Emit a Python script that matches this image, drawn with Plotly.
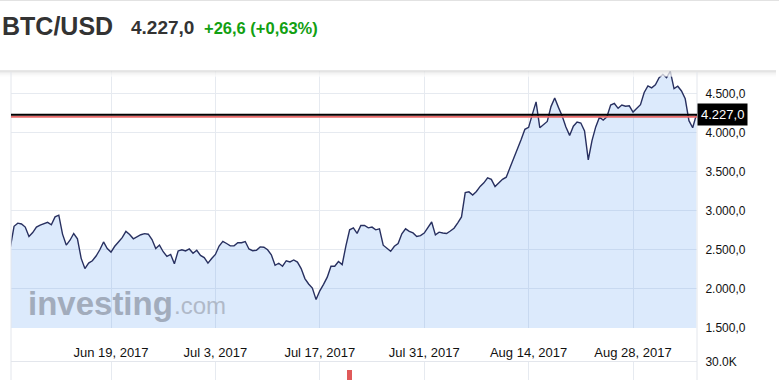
import pandas as pd
import plotly.graph_objects as go

# ---------------- data ----------------
start_time = "2017-06-05 12:00"
sample_freq = "12h"
btc_close = [
    2530, 2800, 2840, 2830, 2790, 2670, 2720, 2790, 2815, 2830,
    2850, 2820, 2921, 2942, 2700, 2560, 2622, 2708, 2640, 2390,
    2260, 2330, 2360, 2420, 2500, 2600, 2516, 2470, 2545, 2600,
    2655, 2735, 2695, 2640, 2670, 2692, 2706, 2699, 2630, 2515,
    2560, 2475, 2415, 2440, 2320, 2485, 2500, 2485, 2510, 2455,
    2494, 2428, 2400, 2330, 2388, 2440, 2548, 2608, 2580, 2550,
    2550, 2590, 2590, 2605, 2510, 2488, 2494, 2537, 2532, 2500,
    2435, 2302, 2328, 2290, 2360, 2345, 2370, 2342, 2260, 2132,
    2063, 2010, 1863, 1975, 2058, 2150, 2290, 2290, 2350, 2310,
    2550, 2755, 2780, 2710, 2810, 2810, 2780, 2790, 2755, 2768,
    2558, 2516, 2480, 2545, 2580, 2705, 2768, 2736, 2715, 2670,
    2680, 2714, 2790, 2855, 2690, 2725, 2715, 2708, 2740, 2775,
    2845, 2920, 3230, 3240, 3200, 3245, 3310, 3355, 3420, 3400,
    3308, 3355, 3400, 3428, 3545, 3684, 3800, 3910, 4040, 4065,
    4230, 4390, 4060, 4100, 4140, 4330, 4440, 4320, 4210, 4070,
    3962, 4080, 4132, 4120, 4020, 3650, 3895, 4070, 4195, 4158,
    4200, 4350, 4370, 4308, 4350, 4335, 4340, 4260, 4308, 4355,
    4510, 4595, 4570, 4608, 4700, 4740, 4700, 4780, 4560, 4590,
    4530, 4430, 4150, 4060, 4227,
]
last_price = 4227.0
prev_close = 4200.4
change_text = "+26,6 (+0,63%)"
price_text = "4.227,0"
symbol = "BTC/USD"

tick_dates = ["2017-06-19", "2017-07-03", "2017-07-17", "2017-07-31", "2017-08-14", "2017-08-28"]
tick_labels = ["Jun 19, 2017", "Jul 3, 2017", "Jul 17, 2017", "Jul 31, 2017", "Aug 14, 2017", "Aug 28, 2017"]
price_ticks = [1500, 2000, 2500, 3000, 3500, 4000, 4500]
x_range = ["2017-06-05 14:10", "2017-09-05 13:55"]
y_range = [1500, 4785]

vol_dates = ["2017-07-21 00:00"]
vol_values = [27300]
vol_ticks = [30000]
vol_tick_labels = ["30.0K"]
vol_range = [24000, 30000]

dates = pd.date_range(start_time, periods=len(btc_close), freq=sample_freq)

# ---------------- geometry ----------------
W, H = 779, 380
ML, MR, MT, MB = 11, 82, 71, 0
PW, PH = W - ML - MR, H - MT - MB


def px_x(px):
    return (px - ML) / PW


def px_y(py):
    return (H - MB - py) / PH


GRID = "#e6eaf0"
FONT = "Liberation Sans, Arial, sans-serif"

fig = go.Figure()
fig.add_trace(go.Scatter(
    x=dates, y=btc_close, mode="lines",
    line=dict(color="#283060", width=1.4),
    fill="tozeroy", fillcolor="rgba(96,160,240,0.22)",
    hoverinfo="skip",
))
fig.add_trace(go.Bar(
    x=pd.to_datetime(vol_dates), y=vol_values,
    width=0.6 * 86400000,
    marker=dict(color="#e05a5a", line=dict(width=0)),
    xaxis="x2", yaxis="y3", hoverinfo="skip",
))

fig.update_layout(
    width=W, height=H,
    autosize=False,
    margin=dict(l=ML, r=MR, t=MT, b=MB, pad=0, autoexpand=False),
    paper_bgcolor="white", plot_bgcolor="white",
    showlegend=False,
    separators=",.",
    font=dict(family=FONT, color="#111111"),
    xaxis=dict(
        domain=[0, 1], anchor="y", type="date", range=x_range, automargin=False,
        tickmode="array", tickvals=tick_dates, ticktext=tick_labels,
        showgrid=True, gridcolor=GRID, gridwidth=1,
        ticks="outside", ticklen=12, tickcolor="rgba(0,0,0,0)",
        tickfont=dict(size=13, color="#111111"),
        showline=False, zeroline=False,
    ),
    yaxis=dict(
        domain=[px_y(328), 1], anchor="x", side="right", range=y_range, automargin=False,
        tickmode="array", tickvals=price_ticks, tickformat=",.1f",
        showgrid=True, gridcolor=GRID, gridwidth=1,
        ticks="outside", ticklen=5, tickcolor="rgba(0,0,0,0)",
        tickfont=dict(size=12, color="#111111"),
        showline=False, zeroline=False,
    ),
    xaxis2=dict(
        domain=[0, 1], anchor="y3", matches="x", type="date", automargin=False,
        tickmode="array", tickvals=tick_dates,
        showticklabels=False, showgrid=True, gridcolor=GRID,
        showline=False, zeroline=False,
    ),
    yaxis3=dict(
        domain=[0, px_y(362)], anchor="x2", side="right", range=vol_range, automargin=False,
        tickmode="array", tickvals=vol_ticks, ticktext=vol_tick_labels,
        showgrid=False, zeroline=False, showline=False,
        ticks="outside", ticklen=5, tickcolor="rgba(0,0,0,0)",
        tickfont=dict(size=12, color="#111111"),
    ),
    bargap=0,
)

shapes = []
# header shadow
for off, col in [(0, "#cfcfcf"), (1, "#e0e0e0"), (2, "#ebebeb"), (3, "#f2f2f2"), (4, "#f7f7f7"), (5, "#fbfbfb")]:
    y = px_y(71 + off)
    shapes.append(dict(type="line", xref="paper", yref="paper", x0=px_x(0), x1=px_x(776), y0=y, y1=y,
                       line=dict(color=col, width=1), layer="above"))
# top faint line
shapes.append(dict(type="line", xref="paper", yref="paper", x0=px_x(0), x1=px_x(779), y0=px_y(0.5), y1=px_y(0.5),
                   line=dict(color="#e2e2e2", width=1), layer="above"))
# plot frame lines
for xp in (0, 1):
    shapes.append(dict(type="line", xref="paper", yref="paper", x0=xp, x1=xp, y0=0, y1=px_y(72),
                       line=dict(color="#e3e6ec", width=1), layer="above"))
shapes.append(dict(type="line", xref="paper", yref="paper", x0=0, x1=1, y0=px_y(361.5), y1=px_y(361.5),
                   line=dict(color="#e3e6ec", width=1), layer="above"))
# price lines
shapes.append(dict(type="line", xref="paper", yref="y", x0=0, x1=1, y0=prev_close, y1=prev_close,
                   line=dict(color="#e86a6a", width=2), layer="above"))
shapes.append(dict(type="line", xref="paper", yref="y", x0=0, x1=1, y0=last_price, y1=last_price,
                   line=dict(color="#000000", width=2), layer="above"))
fig.update_layout(shapes=shapes)

annotations = [
    dict(xref="paper", yref="paper", x=px_x(0), y=px_y(26), xanchor="left", yanchor="middle",
         text="<b>" + symbol + "</b>", showarrow=False, font=dict(family=FONT, size=25, color="#333333")),
    dict(xref="paper", yref="paper", x=px_x(129), y=px_y(28), xanchor="left", yanchor="middle",
         text="<b>" + price_text + "</b>", showarrow=False, font=dict(family=FONT, size=19, color="#333333")),
    dict(xref="paper", yref="paper", x=px_x(202), y=px_y(28.5), xanchor="left", yanchor="middle",
         text="<b>" + change_text + "</b>", showarrow=False, font=dict(family=FONT, size=16.5, color="#12a012")),
    # watermark
    dict(xref="paper", yref="paper", x=px_x(26), y=px_y(303), xanchor="left", yanchor="middle",
         text="<b>investing</b>", showarrow=False, font=dict(family=FONT, size=33, color="#a2acbc")),
    dict(xref="paper", yref="paper", x=px_x(172), y=px_y(305), xanchor="left", yanchor="middle",
         text=".com", showarrow=False, font=dict(family=FONT, size=24, color="#b0b9c8")),
    # last price label
    dict(xref="paper", yref="y", x=1, y=last_price, xanchor="left", yanchor="middle",
         text=price_text, showarrow=False, bgcolor="#000000", borderpad=3,
         font=dict(family=FONT, size=13, color="#ffffff")),
]
fig.update_layout(annotations=annotations)

fig.write_html("out.html", include_plotlyjs=True, config={"displayModeBar": False},
               post_script="document.body.style.margin='0';")
